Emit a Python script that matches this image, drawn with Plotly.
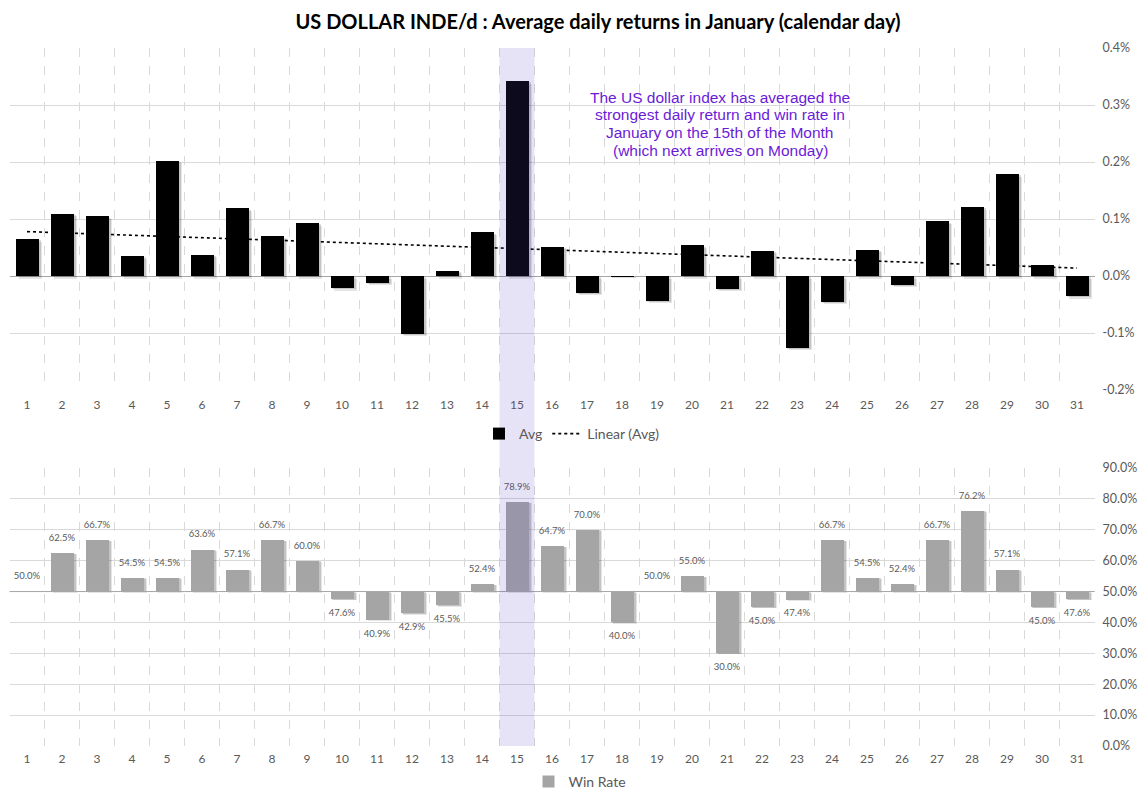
import numpy as np
import plotly.graph_objects as go

# ---------------- data ----------------
days = list(range(1, 32))
day_labels = [str(d) for d in days]

avg_return = [0.065, 0.109, 0.105, 0.035, 0.202, 0.037, 0.119, 0.070, 0.093, -0.021,
              -0.012, -0.101, 0.009, 0.077, 0.342, 0.051, -0.029, -0.001, -0.043, 0.054,
              -0.022, 0.044, -0.126, -0.045, 0.046, -0.015, 0.096, 0.121, 0.179, 0.019,
              -0.035]

win_rate = [50.0, 62.5, 66.7, 54.5, 54.5, 63.6, 57.1, 66.7, 60.0, 47.6,
            40.9, 42.9, 45.5, 52.4, 78.9, 64.7, 70.0, 40.0, 50.0, 55.0,
            30.0, 45.0, 47.4, 66.7, 54.5, 52.4, 66.7, 76.2, 57.1, 45.0,
            47.6]

top_ticks = [-0.2, -0.1, 0.0, 0.1, 0.2, 0.3, 0.4]
top_tick_text = ["-0.2%", "-0.1%", "0.0%", "0.1%", "0.2%", "0.3%", "0.4%"]
bottom_ticks = [0, 10, 20, 30, 40, 50, 60, 70, 80, 90]
bottom_tick_text = ["0.0%", "10.0%", "20.0%", "30.0%", "40.0%", "50.0%",
                    "60.0%", "70.0%", "80.0%", "90.0%"]
win_base = 50
highlight_day = 15

title_text = "US DOLLAR INDE/d : Average daily returns in January (calendar day)"
note_lines = ["The US dollar index has averaged the",
              "strongest daily return and win rate in",
              "January on the 15th of the Month",
              "(which next arrives on Monday)"]

# ---------------- derived ----------------
coef = np.polyfit(days, avg_return, 1)
trend = np.polyval(coef, days)
win_len = [w - win_base for w in win_rate]
win_text = [f"{w:.1f}%" for w in win_rate]
win_pos = ["top center" if w >= win_base else "bottom center" for w in win_rate]

# page body adds an 8px margin: lay the figure out in reference pixels minus 8
OFF = 8
W, H = 1146 - OFF, 804 - OFF


def px_x(v):
    return (v - OFF) / W


def px_y(v):
    return 1 - (v - OFF) / H


FONT = "Lato, Carlito, Calibri, sans-serif"
GRID = "#D9D9D9"
TXT = "#595959"

x_dom = [px_x(9.5), px_x(1094.5)]
top_dom = [px_y(390), px_y(48)]
bot_dom = [px_y(746), px_y(468)]

BW_TOP = 0.66
BW_BOT = 0.68
sh_dx = 0.08  # shadow shift in category units

fig = go.Figure()

# shadows (top)
for k, a in [(1.0, 0.10), (0.55, 0.14)]:
    fig.add_trace(go.Bar(
        x=days, y=avg_return, base=[-0.0045 * k] * len(days),
        width=BW_TOP, offset=-BW_TOP / 2 + sh_dx * k,
        marker=dict(color=f"rgba(0,0,0,{a})", line=dict(width=0)),
        showlegend=False, hoverinfo="skip", xaxis="x", yaxis="y"))

fig.add_trace(go.Bar(
    x=days, y=avg_return, name="Avg", width=BW_TOP,
    marker=dict(color="#000000", line=dict(width=0)),
    xaxis="x", yaxis="y", legend="legend"))

fig.add_trace(go.Scatter(
    x=days, y=trend, name="Linear (Avg)", mode="lines",
    line=dict(color="#000000", width=1.6, dash="dot"),
    xaxis="x", yaxis="y", legend="legend"))

# shadows (bottom)
for k, a in [(1.0, 0.10), (0.55, 0.14)]:
    fig.add_trace(go.Bar(
        x=days, y=win_len, base=[win_base - 0.35 * k] * len(days),
        width=BW_BOT, offset=-BW_BOT / 2 + sh_dx * k,
        marker=dict(color=f"rgba(0,0,0,{a})", line=dict(width=0)),
        showlegend=False, hoverinfo="skip", xaxis="x2", yaxis="y2"))

fig.add_trace(go.Bar(
    x=days, y=win_len, base=[win_base] * len(days), name="Win Rate", width=BW_BOT,
    marker=dict(color="#A5A5A5", line=dict(width=0)),
    xaxis="x2", yaxis="y2", legend="legend2"))

# value labels (transparent markers give the label a little clearance)
fig.add_trace(go.Scatter(
    x=days, y=win_rate, mode="markers+text", text=win_text, textposition=win_pos,
    marker=dict(size=14, color="rgba(0,0,0,0)"),
    textfont=dict(family=FONT, size=9.5, color=TXT),
    showlegend=False, hoverinfo="skip", xaxis="x2", yaxis="y2"))

xcommon = dict(
    range=[0.5, 31.5], tickmode="array", tickvals=days, ticktext=day_labels,
    showgrid=False, zeroline=False, showline=False, ticks="", automargin=False,
    tickfont=dict(family=FONT, size=12, color=TXT),
    minor=dict(tickmode="linear", tick0=0.5, dtick=1, showgrid=True,
               gridcolor=GRID, griddash="dash", gridwidth=1, ticks=""),
    domain=x_dom, fixedrange=True)

fig.update_layout(
    width=W, height=H,
    margin=dict(l=0, r=0, t=0, b=0),
    paper_bgcolor="white", plot_bgcolor="white",
    template="none",
    bargap=0, barmode="overlay",
    title=dict(text=f"<b>{title_text}</b>", x=px_x(598), xanchor="center",
               y=px_y(22), yanchor="middle",
               font=dict(family=FONT, size=20, color="#000000")),
    xaxis=dict(**xcommon, anchor="y", ticklabelstandoff=6),
    xaxis2=dict(**xcommon, anchor="y2", ticklabelstandoff=4),
    yaxis=dict(domain=top_dom, range=[-0.2, 0.4], side="right", anchor="x",
               tickmode="array", tickvals=top_ticks, ticktext=top_tick_text,
               showgrid=True, gridcolor=GRID, gridwidth=1,
               zeroline=True, zerolinecolor="#A6A6A6", zerolinewidth=1,
               showline=False, ticks="", automargin=False, ticklabelstandoff=7,
               tickfont=dict(family=FONT, size=12.5, color=TXT)),
    yaxis2=dict(domain=bot_dom, range=[0, 90], side="right", anchor="x2",
                tickmode="array", tickvals=bottom_ticks, ticktext=bottom_tick_text,
                showgrid=True, gridcolor=GRID, gridwidth=1,
                zeroline=False, showline=False, ticks="", automargin=False,
                ticklabelstandoff=7,
                tickfont=dict(family=FONT, size=12.5, color=TXT)),
    legend=dict(orientation="h", x=px_x(572), xanchor="center", y=px_y(434),
                yanchor="middle", font=dict(family=FONT, size=14, color=TXT),
                bgcolor="rgba(0,0,0,0)"),
    legend2=dict(orientation="h", x=px_x(580), xanchor="center", y=px_y(782),
                 yanchor="middle", font=dict(family=FONT, size=14, color=TXT),
                 bgcolor="rgba(0,0,0,0)"),
    showlegend=True,
)

# baseline at 50% of the win-rate panel
fig.add_shape(type="line", xref="x2 domain", yref="y2", x0=0, x1=1,
              y0=win_base, y1=win_base, line=dict(color="#A6A6A6", width=1),
              layer="above")

# highlight column for the 15th
fig.add_shape(type="rect", xref="x", yref="paper",
              x0=highlight_day - 0.5, x1=highlight_day + 0.5,
              y0=bot_dom[0], y1=top_dom[1],
              fillcolor="rgba(96,64,200,0.15)", line=dict(width=0), layer="above")

for i, line in enumerate(note_lines):
    fig.add_annotation(text=line, xref="paper", yref="paper",
                       x=px_x(720), y=px_y(97 + 17.7 * i), xanchor="center",
                       yanchor="middle", showarrow=False, align="center",
                       font=dict(family="Liberation Sans Narrow, Liberation Sans, Arial",
                                 size=15.5, color="#6A1BD8"))

fig.write_html("out.html")
